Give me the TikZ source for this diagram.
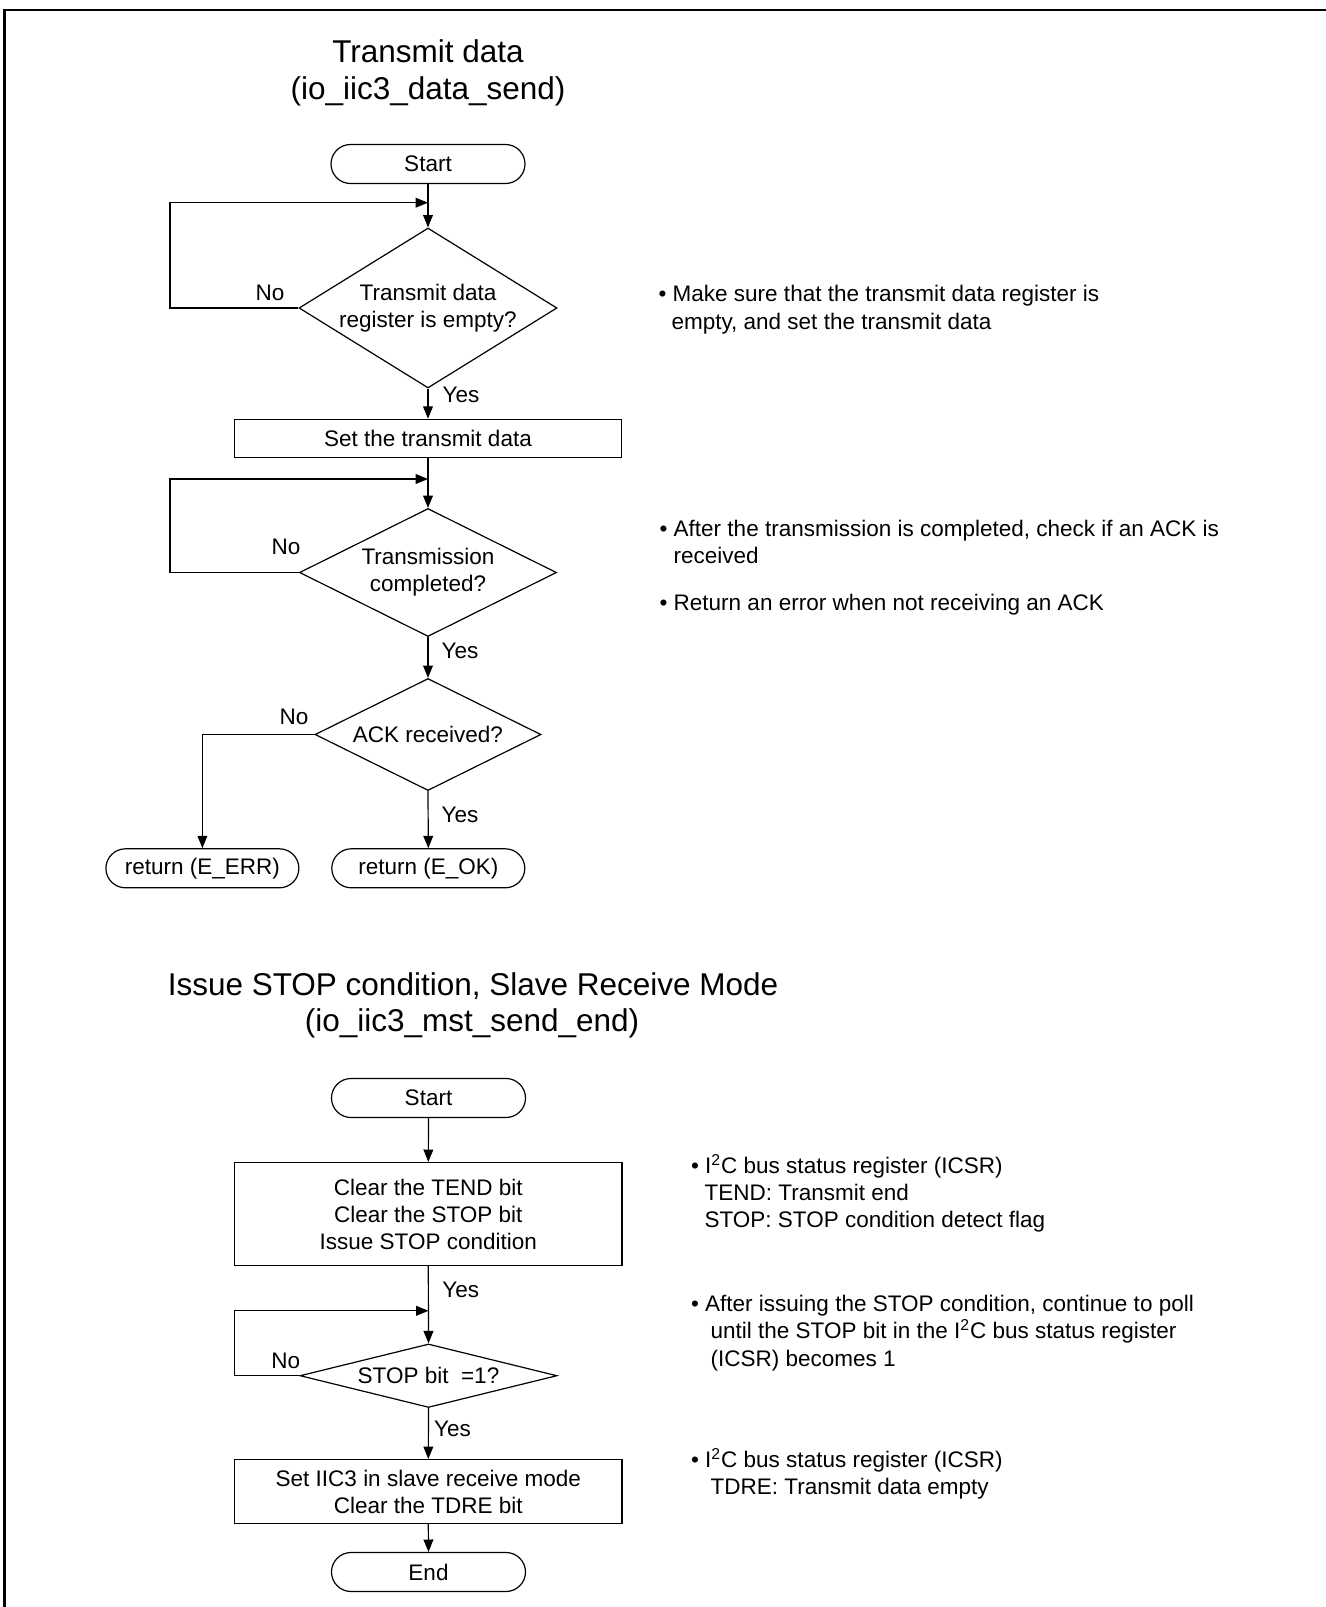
\documentclass[tikz,border=0pt]{standalone}
\usepackage{fontspec}
\setmainfont{Liberation Sans}
\usetikzlibrary{shapes.geometric,arrows.meta}
\newcommand\bodyfont{\fontsize{11.25pt}{13.5pt}\selectfont}
\newcommand\titlefont{\fontsize{15.75pt}{18pt}\selectfont}
\tikzset{
  term/.style={draw, rectangle, rounded corners=9.75pt, minimum width=97pt, minimum height=19.5pt, inner sep=0pt, font=\bodyfont},
  proc/.style={draw, rectangle, minimum width=193.7pt, inner sep=0pt, font=\bodyfont, align=center},
  dec/.style={draw, diamond, inner sep=0pt},
  lbl/.style={font=\bodyfont, inner sep=0pt},
  note/.style={font=\bodyfont, inner sep=0pt, anchor=base west},
  ttl/.style={font=\titlefont, inner sep=0pt, anchor=base},
  arr/.style={-{Triangle[length=6.2pt,width=4.9pt]}},
}
\begin{document}
\begin{tikzpicture}[x=0.5pt,y=-0.5pt,line width=0.6pt]
\useasboundingbox (0,0) rectangle (1326,1607);
% frame
\draw[line width=1.15pt] (4.5,1612) -- (4.5,10) -- (1332,10);

% ---------- Transmit data ----------
\node[ttl] (t1) at (428,62) {Transmit data};
\node[ttl] (t2) at (428,99) {(io\_iic3\_data\_send)};

\node[term] (s1) at (428,164) {Start};
\node[dec, minimum width=129pt, minimum height=80pt,
  label={[lbl,align=center,name=d1t]center:Transmit data\\register is empty?}] (d1) at (428,308) {};
\node[proc, minimum height=19pt] (b1) at (428,438.3) {Set the transmit data};
\node[dec, minimum width=128.5pt, minimum height=64pt,
  label={[lbl,align=center,name=d2t]center:Transmission\\completed?}] (d2) at (428,572.5) {};
\node[dec, minimum width=113pt, minimum height=56pt,
  label={[lbl,name=d3t]center:ACK received?}] (d3) at (428,734.5) {};
\node[term, minimum width=96.5pt] (err) at (202.4,868.3) {return (E\_ERR)};
\node[term, minimum width=96.5pt] (ok) at (428.3,868.3) {return (E\_OK)};

\coordinate (j1) at (428,202.7);
\coordinate (L1) at (170,202.7);
\coordinate (j2) at (428,479);
\coordinate (L2) at (170,479);

\draw[arr] (s1.south) -- (d1.north);
\draw[arr] (d1.west) -| (L1) -- (j1);
\draw[arr] (d1.south) -- (b1.north);
\draw[arr] (b1.south) -- (d2.north);
\draw[arr] (d2.west) -| (L2) -- (j2);
\draw[arr] (d2.south) -- (d3.north);
\draw[arr] (d3.west) -| (err.north);
\draw[arr] (d3.south) -- (ok.north);

\node[lbl] (no1) at (270,293) {No};
\node[lbl] (yes1) at (461,395) {Yes};
\node[lbl] (no2) at (286,546.7) {No};
\node[lbl] (yes2) at (460,650.7) {Yes};
\node[lbl] (no3) at (294,716.7) {No};
\node[lbl] (yes3) at (460,815) {Yes};

\node[note] (c1a) at (658,301) {• Make sure that the transmit data register is};
\node[note] (c1b) at (671,329) {empty, and set the transmit data};
\node[note] (c2a) at (659,536) {• After the transmission is completed, check if an ACK is};
\node[note] (c2b) at (673,563) {received};
\node[note] (c3a) at (659,610) {• Return an error when not receiving an ACK};

% ---------- Issue STOP condition ----------
\node[ttl] (t3) at (473,995) {Issue STOP condition, Slave Receive Mode};
\node[ttl] (t4) at (472,1031.5) {(io\_iic3\_mst\_send\_end)};

\node[term] (s2) at (428.5,1098) {Start};
\node[proc, minimum height=51.5pt] (b2) at (428.3,1214) {Clear the TEND bit\\Clear the STOP bit\\Issue STOP condition};
\node[dec, minimum width=128.5pt, minimum height=31.75pt,
  label={[lbl,name=d4t]center:STOP bit~ =1?}] (d4) at (428.5,1375.7) {};
\node[proc, minimum height=32pt] (b3) at (428.3,1491.6) {Set IIC3 in slave receive mode\\Clear the TDRE bit};
\node[term] (e2) at (428.5,1572) {End};

\coordinate (j4) at (428.5,1310.8);
\coordinate (L4) at (234.6,1310.8);

\draw[arr] (s2.south) -- (b2.north);
\draw[arr] (b2.south) -- (d4.north);
\draw[arr] (d4.west) -| (L4) -- (j4);
\draw[arr] (d4.south) -- (b3.north);
\draw[arr] (b3.south) -- (e2.north);

\node[lbl] (yes4) at (460.7,1289.8) {Yes};
\node[lbl] (no4) at (285.7,1360.6) {No};
\node[lbl] (yes5) at (452.5,1428.8) {Yes};

\node[note] (c4a) at (690.5,1173) {• I\textsuperscript{2}C bus status register (ICSR)};
\node[note] (c4b) at (704,1200) {TEND: Transmit end};
\node[note] (c4c) at (704,1227) {STOP: STOP condition detect flag};
\node[note] (c5a) at (690.5,1311) {• After issuing the STOP condition, continue to poll};
\node[note] (c5b) at (710,1338) {until the STOP bit in the I\textsuperscript{2}C bus status register};
\node[note] (c5c) at (710,1366) {(ICSR) becomes 1};
\node[note] (c6a) at (690.5,1467) {• I\textsuperscript{2}C bus status register (ICSR)};
\node[note] (c6b) at (710,1494) {TDRE: Transmit data empty};
\end{tikzpicture}
\end{document}
